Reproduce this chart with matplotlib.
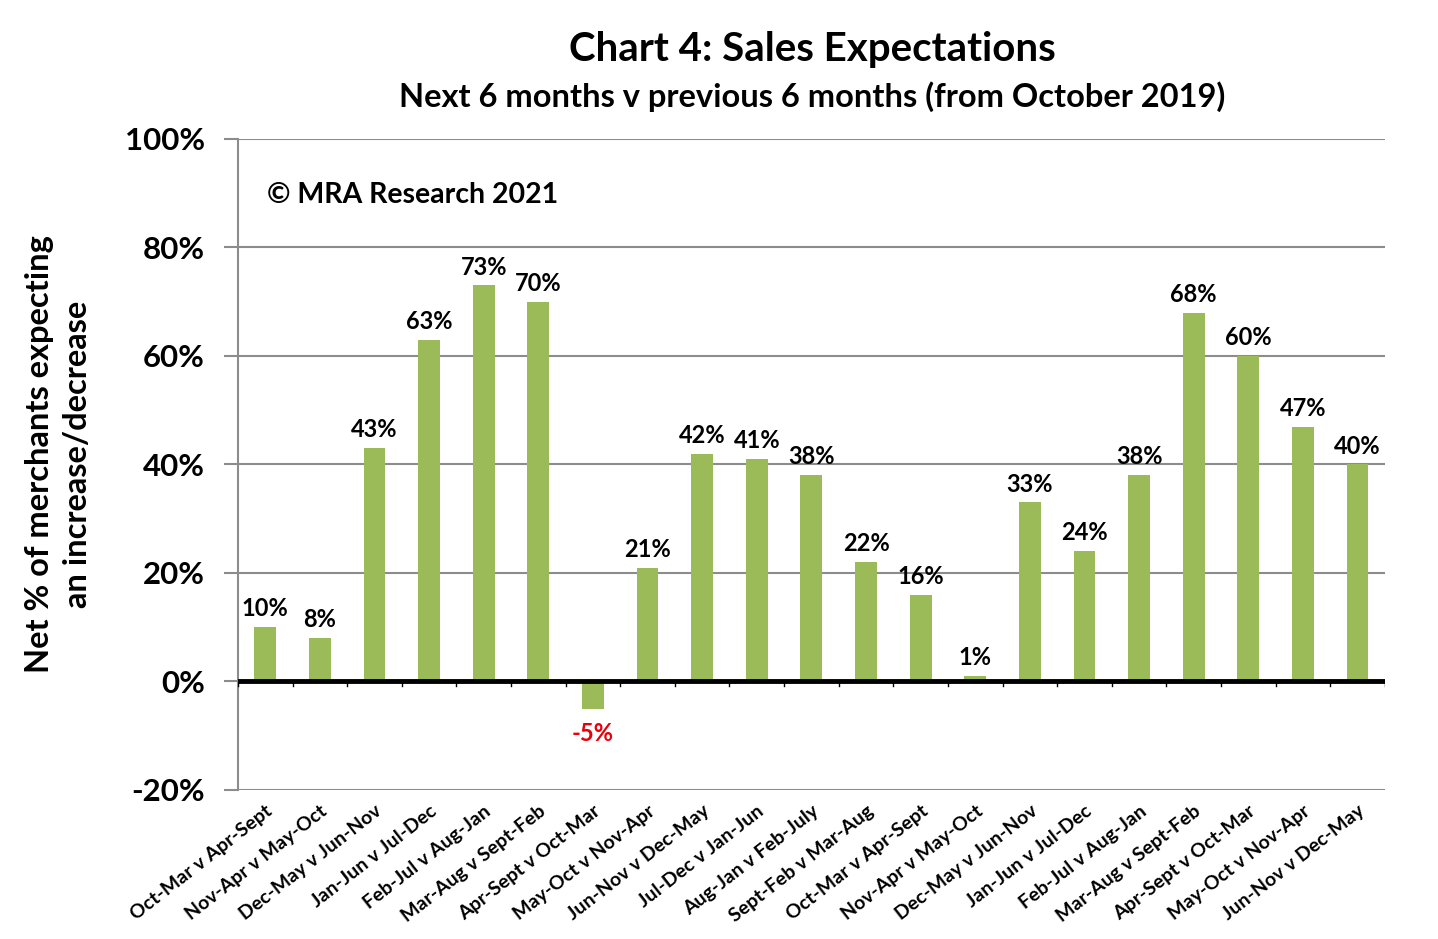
"""Chart 4: Sales Expectations - net % of merchants, next 6 months v previous 6 months."""

import matplotlib
matplotlib.use("Agg")
import matplotlib.pyplot as plt
from matplotlib.ticker import FuncFormatter

plt.rcParams["font.family"] = ["Lato", "DejaVu Sans"]
plt.rcParams["font.weight"] = "bold"

CATEGORIES = [
    "Oct-Mar v Apr-Sept", "Nov-Apr v May-Oct", "Dec-May v Jun-Nov",
    "Jan-Jun v Jul-Dec", "Feb-Jul v Aug-Jan", "Mar-Aug v Sept-Feb",
    "Apr-Sept v Oct-Mar", "May-Oct v Nov-Apr", "Jun-Nov v Dec-May",
    "Jul-Dec v Jan-Jun", "Aug-Jan v Feb-July", "Sept-Feb v Mar-Aug",
    "Oct-Mar v Apr-Sept", "Nov-Apr v May-Oct", "Dec-May v Jun-Nov",
    "Jan-Jun v Jul-Dec", "Feb-Jul v Aug-Jan", "Mar-Aug v Sept-Feb",
    "Apr-Sept v Oct-Mar", "May-Oct v Nov-Apr", "Jun-Nov v Dec-May",
]
NET_PCT = [10, 8, 43, 63, 73, 70, -5, 21, 42, 41, 38, 22, 16, 1, 33, 24, 38, 68, 60, 47, 40]
Y_TICKS = [-20, 0, 20, 40, 60, 80, 100]

BAR_COLOR = "#9BBB59"
GRID_COLOR = "#8C8C8C"


def main():
    fig = plt.figure(figsize=(14.38, 9.39), dpi=100)
    ax = fig.add_axes([0.1655, 0.1587, 0.7975, 0.6933])

    x = list(range(len(CATEGORIES)))
    ax.bar(x, NET_PCT, width=0.4, color=BAR_COLOR, zorder=2)

    ax.set_xlim(-0.5, len(CATEGORIES) - 0.5)
    ax.set_ylim(-20, 100)
    ax.set_yticks(Y_TICKS)
    ax.yaxis.set_major_formatter(FuncFormatter(lambda v, _: f"{v:.0f}%"))
    ax.tick_params(axis="y", labelsize=22.5, length=10, color=GRID_COLOR, width=1.5, pad=14)
    ax.grid(axis="y", color=GRID_COLOR, linewidth=1.5, zorder=0)

    ax.set_xticks(x)
    ax.set_xticklabels(CATEGORIES, rotation=38, ha="right", rotation_mode="anchor",
                       fontsize=14, fontweight="bold")
    ax.tick_params(axis="x", length=0, pad=9)

    # category boundary ticks hanging below the zero line
    for b in range(len(CATEGORIES) + 1):
        ax.plot([b - 0.5, b - 0.5], [0, -0.8], color="black", linewidth=1, zorder=3)
    ax.axhline(0, color="black", linewidth=3.5, zorder=4)

    for side in ["top", "right", "bottom"]:
        ax.spines[side].set_visible(False)
    ax.spines["left"].set_color(GRID_COLOR)
    ax.spines["left"].set_linewidth(1.5)

    for xi, v in zip(x, NET_PCT):
        if v >= 0:
            ax.annotate(f"{v}%", (xi, v), xytext=(0, 5), textcoords="offset points",
                        ha="center", va="bottom", fontsize=17, fontweight="bold")
        else:
            ax.annotate(f"{v}%", (xi, v), xytext=(0, -10), textcoords="offset points",
                        ha="center", va="top", fontsize=17, fontweight="bold",
                        color="#E8000B")

    ax.text(0.025, 0.914, "© MRA Research 2021", transform=ax.transAxes,
            fontsize=20.5, fontweight="bold", va="center")

    ax.set_ylabel("Net % of merchants expecting\nan increase/decrease",
                  fontsize=23.5, fontweight="bold", linespacing=1.4)
    ax.yaxis.set_label_coords(-0.127, 0.516)

    fig.text(0.565, 0.947, "Chart 4: Sales Expectations", ha="center", va="center",
             fontsize=29, fontweight="bold")
    fig.text(0.565, 0.897, "Next 6 months v previous 6 months (from October 2019)",
             ha="center", va="center", fontsize=23.5, fontweight="bold")

    fig.savefig("out.png", dpi=100)
    plt.close(fig)


if __name__ == "__main__":
    main()
